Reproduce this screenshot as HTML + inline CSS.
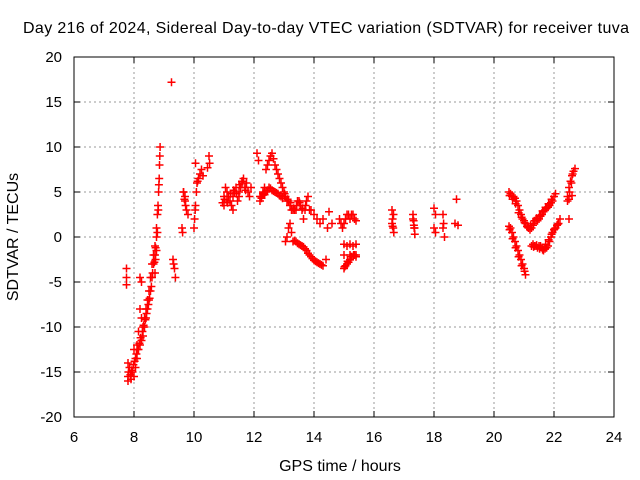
<!DOCTYPE html>
<html><head><meta charset="utf-8"><style>
body{margin:0;background:#fff}
svg{display:block;font-family:"Liberation Sans",sans-serif}
</style></head><body>
<svg id="chart" width="640" height="480">
<text x="326" y="33" font-size="16" textLength="606" text-anchor="middle">Day 216 of 2024, Sidereal Day-to-day VTEC variation (SDTVAR) for receiver tuva</text>
<text x="340" y="471" font-size="16" text-anchor="middle">GPS time / hours</text>
<text x="18" y="237" font-size="16" text-anchor="middle" transform="rotate(-90 18 237)">SDTVAR / TECUs</text>
<g id="grid"></g><g id="ticks"></g><g id="pts"></g>
<rect x="74" y="57" width="540" height="360" fill="none" stroke="#000" stroke-width="1"/>
</svg>
<script>
const xTicks=[6,8,10,12,14,16,18,20,22,24];
const yTicks=[-20,-15,-10,-5,0,5,10,15,20];
const hours=[7.75,7.75,7.75,7.8,7.8,7.8,7.85,7.9,7.95,8.0,8.0,8.05,8.05,8.1,8.1,8.15,8.15,8.2,8.2,8.2,8.25,8.25,8.25,8.3,8.3,8.35,8.35,8.4,8.4,8.45,8.45,8.5,8.5,8.55,8.55,8.6,8.6,8.65,8.65,8.7,8.7,8.75,8.75,8.78,8.8,8.82,8.84,8.85,8.86,8.87,8.7,8.72,8.75,
7.82,7.88,7.92,7.98,8.02,8.08,8.12,8.18,8.22,8.28,8.32,8.38,8.42,8.48,8.52,8.58,8.62,8.68,8.72,8.78,8.81,8.83,
9.25,9.3,9.32,9.35,9.38,
9.6,9.62,9.65,9.7,9.75,9.8,9.65,9.7,10.0,10.02,10.05,10.08,10.1,10.05,10.15,10.2,10.25,10.3,10.5,10.52,10.45,9.68,9.72,10.04,10.12,
10.95,11.0,11.05,11.1,11.15,11.2,11.25,11.3,11.35,11.4,11.45,11.5,11.55,11.6,11.65,11.7,11.75,11.8,11.0,11.1,11.3,11.5,11.6,11.7,11.85,11.9,11.02,11.12,11.22,11.32,11.42,11.52,11.62,11.72,
12.1,12.15,12.2,12.25,12.3,12.35,12.4,12.45,12.5,12.55,12.6,12.65,12.7,12.75,12.8,12.85,12.9,12.95,12.2,12.3,12.4,12.5,12.6,12.7,12.8,12.9,12.25,12.35,12.45,12.55,12.65,12.75,12.85,12.95,
13.0,13.05,13.1,13.15,13.2,13.25,13.3,13.35,13.4,13.45,13.5,13.55,13.6,13.65,13.7,13.75,13.8,13.85,13.05,13.1,13.15,13.2,13.25,13.02,13.12,13.22,13.32,13.42,13.52,13.62,13.72,
13.3,13.4,13.5,13.6,13.7,13.8,13.9,14.0,14.1,14.2,14.3,14.4,13.35,13.45,13.55,13.65,13.75,13.85,13.95,14.05,14.15,14.25,
13.9,14.0,14.1,14.2,14.3,14.45,14.5,14.6,
14.85,14.9,14.95,15.0,15.05,15.1,15.15,15.2,15.25,15.3,15.35,15.4,15.0,15.1,15.2,15.3,15.4,15.0,15.05,15.1,15.15,15.2,15.25,15.3,15.35,15.4,15.0,15.2,15.4,15.02,15.12,15.22,15.32,
16.6,16.62,16.64,16.66,16.6,16.65,17.3,17.32,17.34,17.36,17.3,17.35,16.62,17.33,
18.0,18.05,18.0,18.05,18.3,18.32,18.35,18.3,18.7,18.75,18.8,
20.5,20.55,20.6,20.65,20.7,20.75,20.8,20.85,20.9,20.95,21.0,21.05,21.1,21.15,21.2,21.25,21.3,21.35,21.4,21.45,21.5,21.55,21.6,21.65,21.7,21.75,21.8,21.85,21.9,21.95,22.0,22.05,
20.52,20.62,20.72,20.82,20.92,21.02,21.12,21.22,21.32,21.42,21.52,21.62,21.72,21.82,21.92,
20.5,20.55,20.6,20.65,20.7,20.75,20.8,20.85,20.9,20.95,21.0,21.05,21.25,21.3,21.35,21.4,21.45,21.5,21.55,21.6,21.65,21.7,21.75,21.8,21.85,21.9,21.95,22.0,22.05,22.1,22.15,22.2,
20.52,20.62,20.72,20.82,20.92,21.02,21.32,21.42,21.52,21.62,21.72,21.82,21.92,22.02,22.12,
22.45,22.5,22.55,22.6,22.65,22.7,22.5,22.6,22.5,22.45,22.52,22.58,22.62];
const values=[-3.5,-4.5,-5.3,-14,-15.5,-16,-14.5,-15.8,-15,-15.5,-12.5,-14.5,-13.5,-13.5,-12,-12.5,-10.5,-12,-4.5,-8,-11.5,-9,-5,-11,-10,-10,-9,-9,-8,-8,-7,-7,-6,-6,-4.5,-4.5,-3,-3,-2,-2,-1,0,1,2.5,3.5,5,6.5,8,9,10,-4,-2.5,-1.5,
-15,-15.3,-14.8,-14.2,-13.8,-13,-12.5,-11.8,-11.2,-10.5,-9.8,-9.2,-8.5,-7.5,-6.8,-5.5,-4,-2.8,-1.2,0.5,3,5.8,
17.2,-2.5,-3,-3.5,-4.5,
1,0.5,5,4,3,2.5,5,4.5,1,2,3.5,5,6,8.2,6.5,7,7.5,6.8,9,8.2,7.7,4.2,3.5,3,6.2,
3.8,4.5,5.5,5,4.5,4,3.5,4.5,5,5.5,4,4.5,5.5,6,6.5,5.5,6,5,3.5,4,3,5,6.2,5.5,4.5,5.5,4.2,3.8,4.8,5.2,4.8,5.8,6.2,5.2,
9.3,8.5,4,4.5,5,5.5,7.5,8,8.5,9,9.3,8.7,8,7.5,7,6.5,6,5.5,4.5,4.8,5,5.5,5.2,5,4.8,4.5,4.3,4.7,5.2,5.4,5.1,4.9,4.6,4.3,
5,4.5,4,4,3.5,3,3,3,3,4,4,3.5,3,2,3,4,4.5,3,-0.5,0,1,1.5,0.5,4.8,4.2,3.8,3.2,3.5,3.8,3.2,3.5,
-0.5,-0.5,-0.8,-1,-1.3,-1.8,-2.2,-2.6,-2.8,-3,-3.2,-2.5,-0.4,-0.7,-0.9,-1.1,-1.5,-2,-2.4,-2.7,-2.9,-3.1,
3,2.5,2,1.5,2,1,2.8,1.5,
2,1.5,1,1.5,2,2.5,2.5,2,2.5,2.5,2,1.8,-0.8,-1,-0.8,-1,-0.8,-3.5,-3.2,-3,-2.8,-2.5,-2.2,-2.2,-2,-2,-2,-2,-2.2,-3.3,-2.7,-2.2,-2,
3,2,1,0.5,1.5,2.5,2.5,1.8,1,0.3,2,1,1.2,1.3,
3.2,2.5,1,0.5,2.5,1.5,0,1,1.5,4.2,1.3,
5,4.8,4.5,4.5,4.3,4,3.5,3,2.5,2,1.8,1.5,1.2,1,0.8,1,1.3,1.8,2,1.8,2,2.3,2.5,2.8,3,3.2,3.3,3.5,3.8,4,4.5,4.8,
4.6,4.2,3.7,2.7,2.2,1.6,1.1,1.3,1.5,2.1,2.4,2.9,3.3,3.7,4.2,
1.2,1,0.5,0,-0.5,-1,-1.5,-2,-2.5,-3,-3.5,-4.2,-1,-0.8,-1,-1,-1.2,-1,-1,-1.2,-1.5,-1.3,-1.2,-1,-0.5,0,0.5,0.8,1,1.3,1.5,2,
0.8,-0.2,-1.2,-2.2,-3.2,-3.8,-1.1,-0.9,-1.3,-1.4,-0.8,-0.3,0.3,0.9,1.4,
4.5,5.5,6.2,6.8,7.3,7.6,4.2,4.6,2,4,5,6,7];
const X=h=>74+(h-6)*30, Y=v=>57+(20-v)*9;
const NS='http://www.w3.org/2000/svg';
const grid=document.getElementById('grid'),ticks=document.getElementById('ticks'),pts=document.getElementById('pts');
function mk(tag,at,parent){const e=document.createElementNS(NS,tag);for(const k in at)e.setAttribute(k,at[k]);parent.appendChild(e);return e;}
xTicks.forEach(t=>{const x=X(t);
 if(t>6&&t<24){const g=mk('line',{x1:x,y1:57,x2:x,y2:417,stroke:'#999','stroke-dasharray':'2,3'},grid);
 
 }
 mk('line',{x1:x,y1:417,x2:x,y2:411,stroke:'#000'},ticks);mk('line',{x1:x,y1:57,x2:x,y2:63,stroke:'#000'},ticks);
 const l=mk('text',{x:x,y:442,'font-size':15,'text-anchor':'middle'},ticks);l.textContent=t;
 
 });
yTicks.forEach(t=>{const y=Y(t);
 if(t>-20&&t<20){const g=mk('line',{x1:74,y1:y,x2:614,y2:y,stroke:'#999','stroke-dasharray':'2,3'},grid);
 
 }
 mk('line',{x1:74,y1:y,x2:80,y2:y,stroke:'#000'},ticks);mk('line',{x1:614,y1:y,x2:608,y2:y,stroke:'#000'},ticks);
 const l=mk('text',{x:62,y:y+5,'font-size':15,'text-anchor':'end'},ticks);l.textContent=t;
 
 });
hours.forEach((h,i)=>{const x=X(h),y=Y(values[i]);
 const p=mk('path',{d:`M${x-4},${y}h8M${x},${y-4}v8`,stroke:'#f00','stroke-width':1.5},pts);
 
 });
</script>
</body></html>
